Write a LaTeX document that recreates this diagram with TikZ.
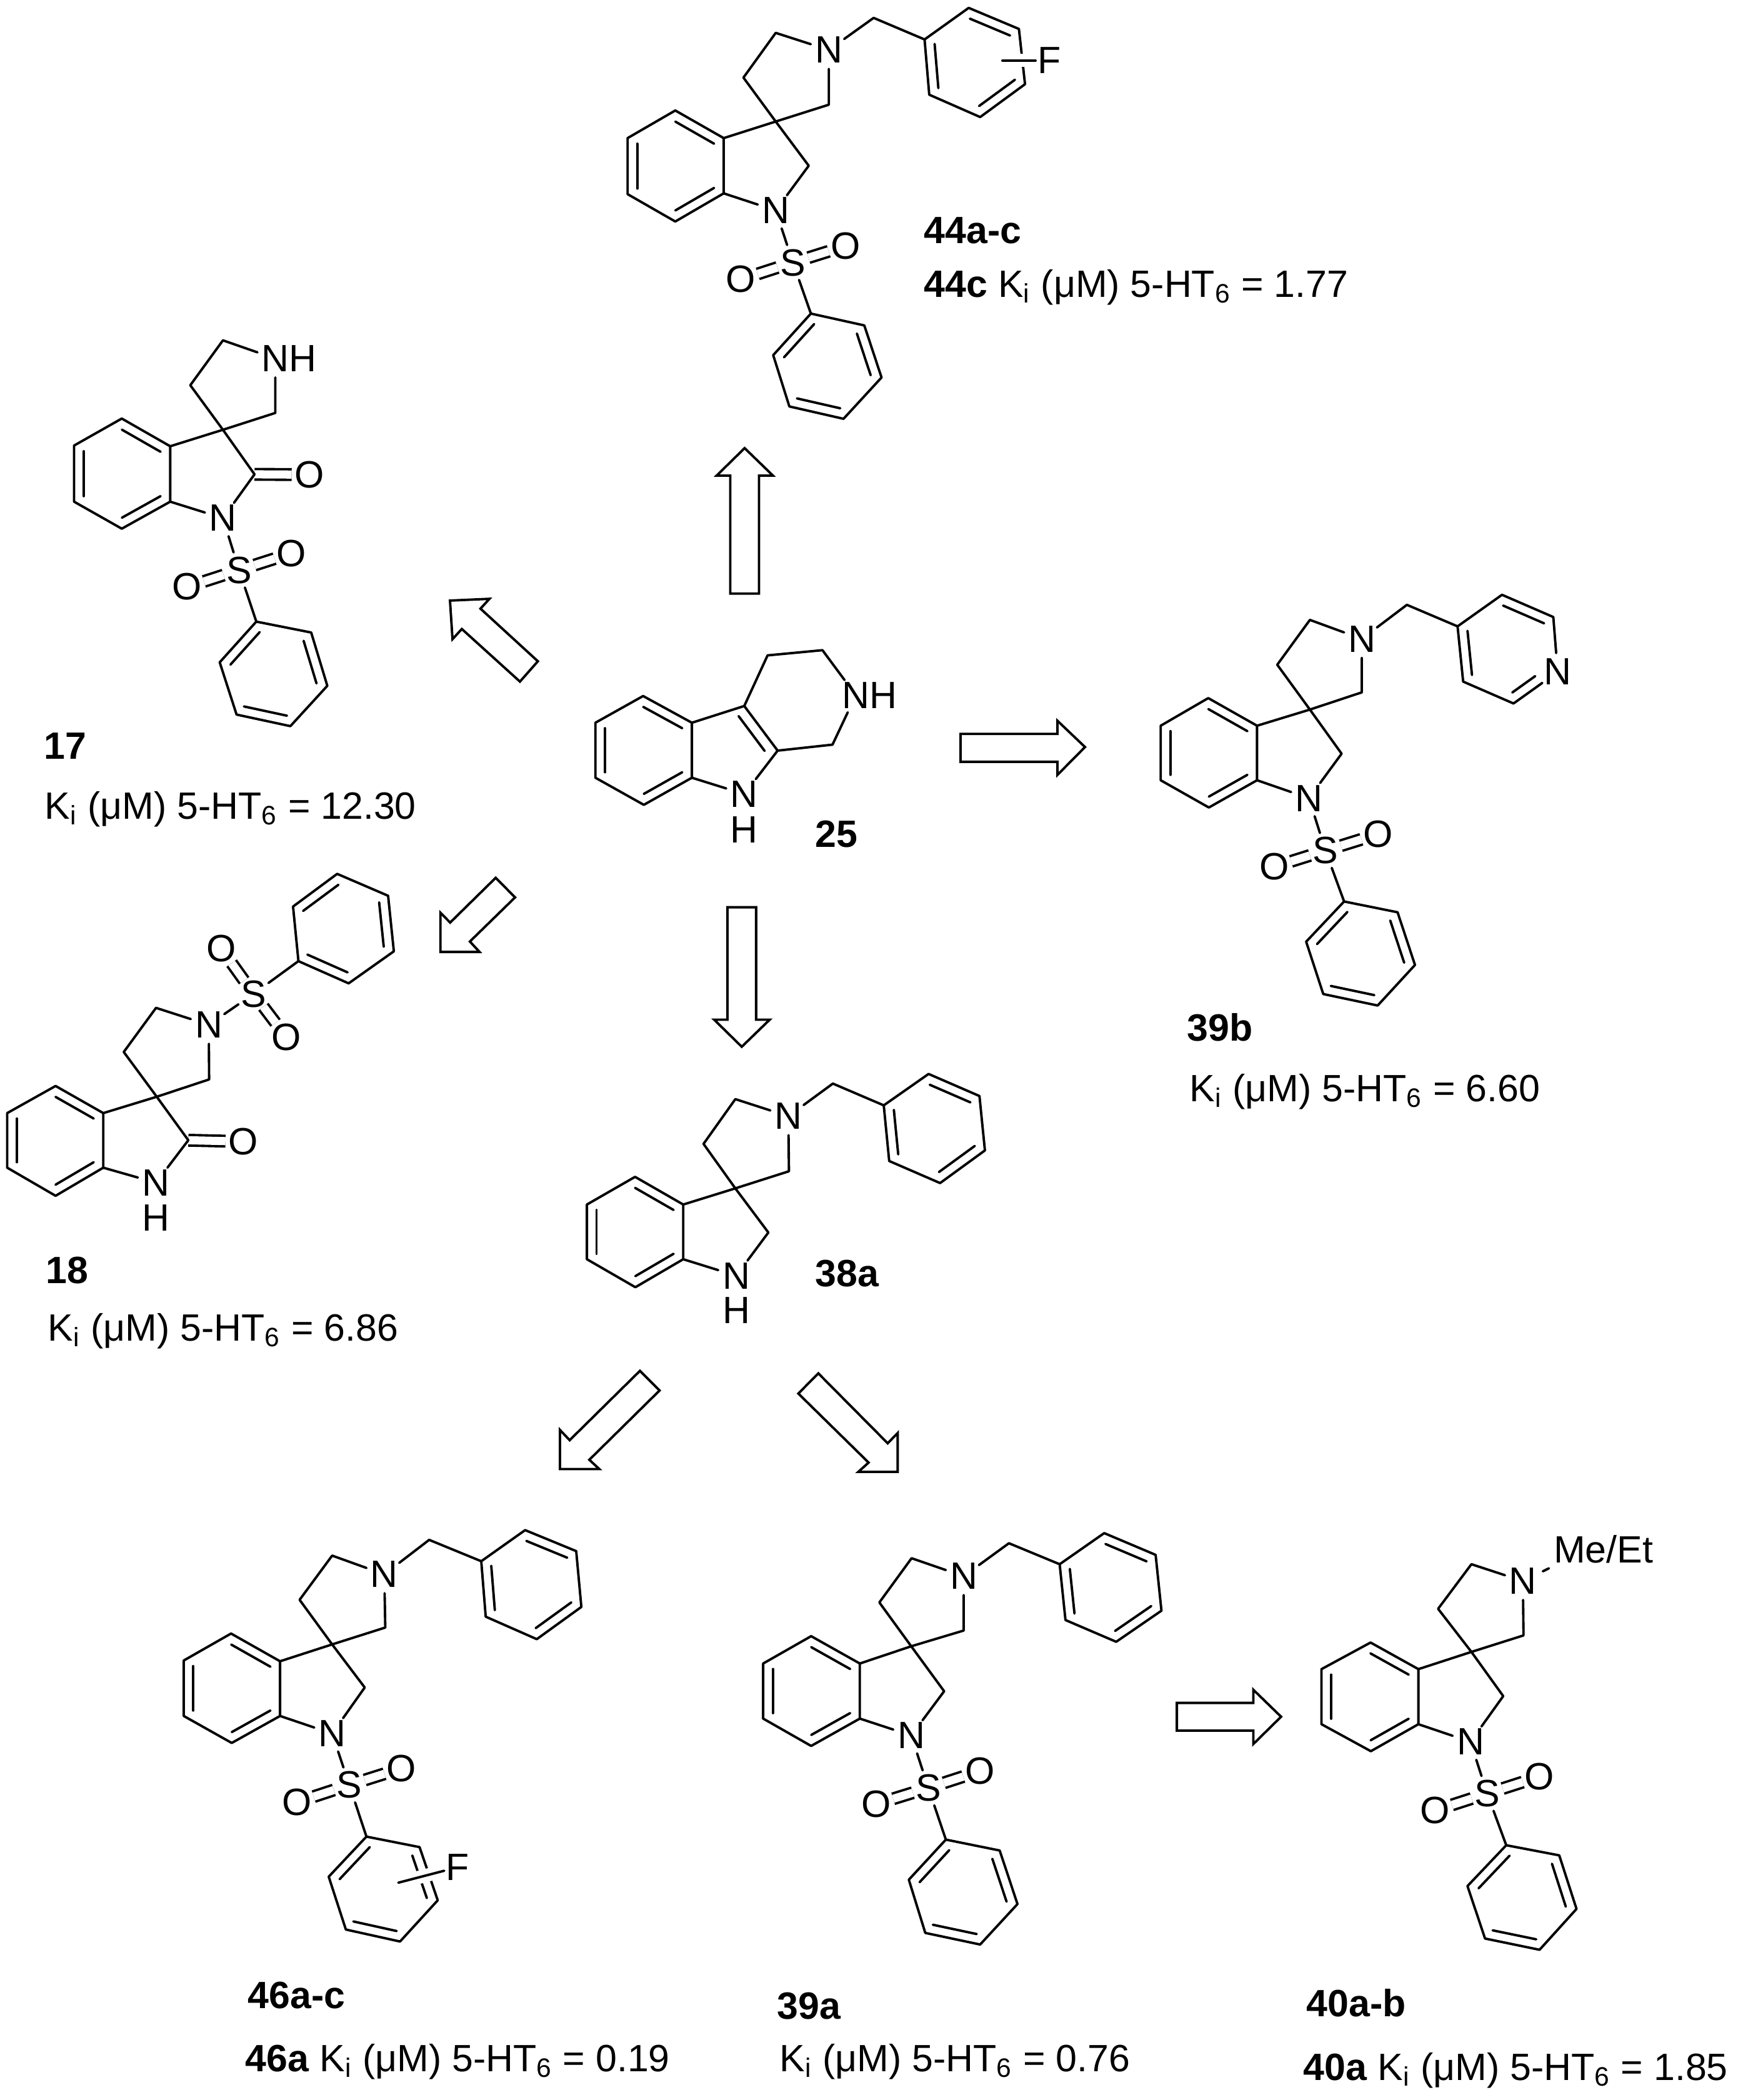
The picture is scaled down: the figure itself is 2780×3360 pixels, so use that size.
\documentclass[tikz,border=0pt]{standalone}
\usepackage{fontspec}
\setmainfont{Liberation Sans}
\usetikzlibrary{calc}

\newcommand{\kival}[1]{K\textsubscript{i} (μM) 5-HT\textsubscript{6} = #1}

% six ring, double bonds on a-b, c-d, e-f
\newcommand{\arring}[7]{
    \coordinate (#1a) at #2; \coordinate (#1b) at #3; \coordinate (#1c) at #4;
    \coordinate (#1d) at #5; \coordinate (#1e) at #6; \coordinate (#1f) at #7;
    \coordinate (#1o) at ($(#1a)!.5!(#1d)$);
    \draw[bond_sng] (#1a) -- (#1b) -- (#1c) -- (#1d) -- (#1e) -- (#1f) -- cycle;
    \foreach \u/\v in {a/b, c/d, e/f}
        \draw[bond_sng] ($(#1\u)!.2!(#1o)$) -- ($(#1\v)!.2!(#1o)$);
}
\newcommand{\spirobonds}{
    \draw[bond_sng] (pha) -- (s) -- (p3) -- (n) -- (p2) -- (p1) -- (s) -- (q) -- (n1) -- (phf);
}
\newcommand{\sulfonyl}[5]{
    \node[atomnode] (so) at #2 {S};
    \node[atomnode] (o1) at #3 {O};
    \node[atomnode] (o2) at #4 {O};
    \draw[bond_sng] (#1) -- (so) -- (#5);
    \draw[bond_so] (so) -- (o1);
    \draw[bond_so] (so) -- (o2);
}

\begin{document}
\begin{tikzpicture}[
    x=0.01cm, y=-0.01cm,
    crop/.style n args={4}{shift={(#1*0.01cm,-#2*0.01cm)}, x={#3/1568*0.01cm}, y={-#4/1568*0.01cm}},
    bond_sng/.style={draw, line width=1.1pt, line cap=round, line join=round},
    bond_so/.style={draw, line width=1.1pt, double, double distance=3.7pt, shorten >=-1pt, shorten <=-1pt},
    bond_co/.style={draw, line width=1.1pt, double, double distance=3.7pt, shorten >=-1pt},
    bond_sub/.style={bond_sng, preaction={draw=white, line width=6pt}, shorten >=-1.8pt},
    atomnode/.style={circle, inner sep=0pt, outer sep=0pt, font=\fontsize{17.3}{20}\selectfont},
    textlabel/.style={inner sep=0pt, anchor=base west, font=\fontsize{17.3}{20}\selectfont},
    blockarrow/.style={draw, line width=1.1pt, line join=miter}
]
    \useasboundingbox (0,0) rectangle (2780,3360);

    % 44a-c
    \begin{scope}[crop={960}{0}{900}{660}, name prefix=m44-]
        \arring{ph}{(345,525)}{(210,420)}{(77,525)}{(77,738)}{(210,842)}{(345,735)}
        \coordinate (s) at (490,462);
        \coordinate (p1) at (400,295);
        \coordinate (p2) at (490,125);
        \coordinate (p3) at (638,398);
        \coordinate (q) at (582,630);
        \coordinate (ch2) at (763,68);
        \node[atomnode] (n) at (638,190) {N};
        \node[atomnode] (n1) at (490,800) {N};
        \spirobonds
        \arring{bz}{(588,1192)}{(483,1350)}{(528,1545)}{(679,1592)}{(785,1435)}{(737,1237)}
        \sulfonyl{n1}{(538,998)}{(393,1062)}{(685,935)}{bza}
        \arring{fb}{(905,150)}{(918,360)}{(1060,445)}{(1185,320)}{(1168,110)}{(1028,30)}
        \draw[bond_sng] (n) -- (ch2) -- (fba);
        \coordinate (fbar) at (1122,230);
        \node[atomnode] (fl) at (1252,230) {F};
        \draw[bond_sub] (fbar) -- (fl);
    \end{scope}
    \node[textlabel] (lab44) at (1478,389) {\textbf{44a-c}};
    \node[textlabel] (val44) at (1478,475) {\textbf{44c} \kival{1.77}};

    % 17
    \begin{scope}[crop={60}{480}{900}{880}, name prefix=m17-]
        \arring{ph}{(370,417)}{(235,338)}{(102,415)}{(102,575)}{(235,652)}{(370,575)}
        \coordinate (s) at (517,370);
        \coordinate (p1) at (426,243);
        \coordinate (p2) at (517,115);
        \coordinate (p3) at (663,322);
        \coordinate (q) at (605,497);
        \node[atomnode] (n) at (663,167) {\rlap{NH}\phantom{N}};
        \node[atomnode] (n1) at (517,622) {N};
        \node[atomnode] (o3) at (758,498) {O};
        \draw[bond_co] (q) -- (o3);
        \spirobonds
        \arring{bz}{(610,917)}{(508,1033)}{(555,1182)}{(705,1215)}{(808,1100)}{(763,948)}
        \sulfonyl{n1}{(562,770)}{(417,818)}{(708,722)}{bza}
        \draw[blockarrow] (1150,857) -- (1260,852) -- (1235,880) -- (1395,1030) -- (1345,1088) -- (1183,938) -- (1157,967) -- cycle;
    \end{scope}
    \node[textlabel] (lab17) at (70,1214) {\textbf{17}};
    \node[textlabel] (val17) at (71,1310) {\kival{12.30}};

    % 18
    \begin{scope}[crop={0}{1360}{900}{820}, name prefix=m18-]
        \arring{ph}{(288,805)}{(155,722)}{(20,805)}{(20,972)}{(155,1058)}{(288,972)}
        \coordinate (s) at (437,755);
        \coordinate (p1) at (345,618);
        \coordinate (p2) at (435,483);
        \coordinate (p3) at (583,702);
        \coordinate (q) at (525,888);
        \node[atomnode] (n) at (582,535) {N};
        \node[atomnode] (n1) at (435,1018) {N};
        \node[atomnode] (h1) at (435,1125) {H};
        \node[atomnode] (o3) at (678,892) {O};
        \draw[bond_co] (q) -- (o3);
        \spirobonds
        \arring{bz}{(832,340)}{(972,408)}{(1098,310)}{(1082,140)}{(940,73)}{(817,173)}
        \sulfonyl{n}{(707,440)}{(617,302)}{(798,572)}{bza}
        \draw[blockarrow] (1382,85) -- (1436,145) -- (1310,280) -- (1337,312) -- (1228,312) -- (1228,192) -- (1255,222) -- cycle;
    \end{scope}
    \node[textlabel] (lab18) at (73,2053) {\textbf{18}};
    \node[textlabel] (val18) at (76,2145) {\kival{6.86}};

    % 25
    \begin{scope}[crop={920}{680}{900}{1000}, name prefix=m25-]
        \arring{ph}{(326,747)}{(190,680)}{(57,747)}{(57,885)}{(192,953)}{(326,885)}
        \coordinate (c3) at (472,705);
        \coordinate (c2) at (565,817);
        \coordinate (pc) at (400,820);
        \coordinate (p1) at (537,578);
        \coordinate (p2) at (690,565);
        \coordinate (p3) at (718,802);
        \node[atomnode] (n) at (783,678) {\rlap{NH}\phantom{N}};
        \node[atomnode] (n1) at (472,926) {N};
        \node[atomnode] (h1) at (472,1015) {H};
        \draw[bond_sng] (pha) -- (c3) -- (p1) -- (p2) -- (n) -- (p3) -- (c2) -- (n1) -- (phf);
        \draw[bond_sng] (c3) -- (c2);
        \draw[bond_sng] ($(c3)!.22!(pc)$) -- ($(c2)!.22!(pc)$);
        \draw[blockarrow] (473,58) -- (552,127) -- (513,127) -- (513,423) -- (433,423) -- (433,127) -- (395,127) -- cycle;
        \draw[blockarrow] (1075,775) -- (1345,775) -- (1345,742) -- (1422,808) -- (1345,878) -- (1345,845) -- (1075,845) -- cycle;
        \draw[blockarrow] (425,1210) -- (505,1210) -- (505,1492) -- (543,1492) -- (465,1560) -- (388,1492) -- (425,1492) -- cycle;
    \end{scope}
    \node[textlabel] (lab25) at (1304,1355) {\textbf{25}};

    % 39b
    \begin{scope}[crop={1800}{900}{780}{900}, name prefix=m39b-]
        \arring{ph}{(425,455)}{(268,378)}{(115,455)}{(115,607)}{(270,683)}{(425,607)}
        \coordinate (s) at (595,410);
        \coordinate (p1) at (490,285);
        \coordinate (p2) at (595,160);
        \coordinate (p3) at (762,362);
        \coordinate (q) at (697,533);
        \coordinate (ch2) at (907,118);
        \node[atomnode] (n) at (762,213) {N};
        \node[atomnode] (n1) at (592,657) {N};
        \spirobonds
        \arring{bz}{(705,945)}{(583,1057)}{(638,1203)}{(813,1235)}{(933,1122)}{(877,975)}
        \sulfonyl{n1}{(645,803)}{(480,848)}{(815,757)}{bza}
        \coordinate (py1) at (1070,178);
        \coordinate (py2) at (1213,90);
        \coordinate (py3) at (1378,152);
        \coordinate (py5) at (1250,393);
        \coordinate (py6) at (1088,332);
        \coordinate (pyo) at (1230,240);
        \node[atomnode] (py4) at (1392,305) {N};
        \draw[bond_sng] (n) -- (ch2) -- (py1);
        \draw[bond_sng] (py4) -- (py5) -- (py6) -- (py1) -- (py2) -- (py3) -- (py4);
        \draw[bond_sng] ($(py1)!.2!(pyo)$) -- ($(py6)!.2!(pyo)$);
        \draw[bond_sng] ($(py2)!.2!(pyo)$) -- ($(py3)!.2!(pyo)$);
        \coordinate (pyi5) at ($(py5)!.2!(pyo)$);
        \coordinate (pyi4) at ($(py4)!.2!(pyo)$);
        \draw[bond_sng] (pyi5) -- ($(pyi5)!.65!(pyi4)$);
    \end{scope}
    \node[textlabel] (lab39b) at (1899,1665) {\textbf{39b}};
    \node[textlabel] (val39b) at (1903,1762) {\kival{6.60}};

    % 38a
    \begin{scope}[crop={880}{1680}{760}{780}, name prefix=m38-]
        \arring{ph}{(440,497)}{(281,408)}{(122,497)}{(122,673)}{(282,763)}{(440,673)}
        \coordinate (s) at (612,445);
        \coordinate (p1) at (507,302);
        \coordinate (p2) at (612,158);
        \coordinate (p3) at (789,390);
        \coordinate (q) at (721,587);
        \coordinate (ch2) at (934,108);
        \node[atomnode] (n) at (787,213) {N};
        \node[atomnode] (n1) at (615,726) {N};
        \node[atomnode] (h1) at (615,838) {H};
        \spirobonds
        \arring{bn}{(1102,178)}{(1120,357)}{(1288,428)}{(1436,323)}{(1418,148)}{(1250,77)}
        \draw[bond_sng] (n) -- (ch2) -- (bna);
        \draw[blockarrow] (297,1032) -- (362,1095) -- (130,1318) -- (163,1348) -- (33,1348) -- (33,1222) -- (65,1255) -- cycle;
        \draw[blockarrow] (886,1040) -- (820,1105) -- (1052,1327) -- (1018,1357) -- (1148,1357) -- (1148,1232) -- (1115,1265) -- cycle;
    \end{scope}
    \node[textlabel] (lab38) at (1304,2058) {\textbf{38a}};

    % 46a-c
    \begin{scope}[crop={260}{2420}{860}{940}, name prefix=m46-]
        \arring{ph}{(343,397)}{(200,323)}{(62,395)}{(62,543)}{(202,615)}{(343,543)}
        \coordinate (s) at (495,352);
        \coordinate (p1) at (400,233);
        \coordinate (p2) at (495,115);
        \coordinate (p3) at (650,307);
        \coordinate (q) at (590,467);
        \coordinate (ch2) at (778,73);
        \node[atomnode] (n) at (647,165) {N};
        \node[atomnode] (n1) at (495,590) {N};
        \spirobonds
        \arring{bz}{(595,865)}{(485,972)}{(535,1113)}{(693,1145)}{(803,1035)}{(750,893)}
        \sulfonyl{n1}{(545,727)}{(392,773)}{(697,683)}{bza}
        \arring{bn}{(930,130)}{(943,278)}{(1092,338)}{(1222,252)}{(1207,103)}{(1058,47)}
        \draw[bond_sng] (n) -- (ch2) -- (bna);
        \coordinate (fbar) at (688,988);
        \node[atomnode] (fl) at (860,947) {F};
        \draw[bond_sub] (fbar) -- (fl);
    \end{scope}
    \node[textlabel] (lab46) at (396,3213) {\textbf{46a-c}};
    \node[textlabel] (val46) at (392,3314) {\textbf{46a} \kival{0.19}};

    % 39a
    \begin{scope}[crop={1180}{2420}{860}{940}, name prefix=m39a-]
        \arring{ph}{(357,403)}{(215,330)}{(75,403)}{(75,550)}{(215,623)}{(357,550)}
        \coordinate (s) at (507,357);
        \coordinate (p1) at (414,240);
        \coordinate (p2) at (508,122);
        \coordinate (p3) at (660,315);
        \coordinate (q) at (603,477);
        \coordinate (ch2) at (792,82);
        \node[atomnode] (n) at (660,170) {N};
        \node[atomnode] (n1) at (507,595) {N};
        \spirobonds
        \arring{bz}{(608,873)}{(500,980)}{(548,1122)}{(708,1153)}{(817,1045)}{(765,902)}
        \sulfonyl{n1}{(557,735)}{(405,778)}{(708,690)}{bza}
        \arring{bn}{(940,138)}{(957,287)}{(1105,345)}{(1237,262)}{(1220,113)}{(1070,55)}
        \draw[bond_sng] (n) -- (ch2) -- (bna);
        \draw[blockarrow] (1282,508) -- (1505,508) -- (1505,473) -- (1586,545) -- (1505,618) -- (1505,582) -- (1282,582) -- cycle;
    \end{scope}
    \node[textlabel] (lab39a) at (1243,3230) {\textbf{39a}};
    \node[textlabel] (val39a) at (1247,3314) {\kival{0.76}};

    % 40a-b
    \begin{scope}[crop={2020}{2420}{760}{940}, name prefix=m40-]
        \arring{ph}{(515,418)}{(357,347)}{(195,418)}{(195,565)}{(358,637)}{(515,565)}
        \coordinate (s) at (690,372);
        \coordinate (p1) at (580,257);
        \coordinate (p2) at (690,138);
        \coordinate (p3) at (862,328);
        \coordinate (q) at (795,490);
        \node[atomnode] (n) at (860,183) {N};
        \node[atomnode] (n1) at (687,612) {N};
        \spirobonds
        \arring{bz}{(805,888)}{(677,997)}{(735,1137)}{(915,1167)}{(1037,1058)}{(980,915)}
        \sulfonyl{n1}{(742,750)}{(570,795)}{(915,705)}{bza}
        \node[textlabel, inner sep=2pt] (rgrp) at (946,135) {Me/Et};
        \draw[bond_sng, shorten <=1.5pt] (n) -- (rgrp.south west);
    \end{scope}
    \node[textlabel] (lab40) at (2090,3226) {\textbf{40a-b}};
    \node[textlabel] (val40) at (2085,3328) {\textbf{40a} \kival{1.85}};
\end{tikzpicture}
\end{document}
